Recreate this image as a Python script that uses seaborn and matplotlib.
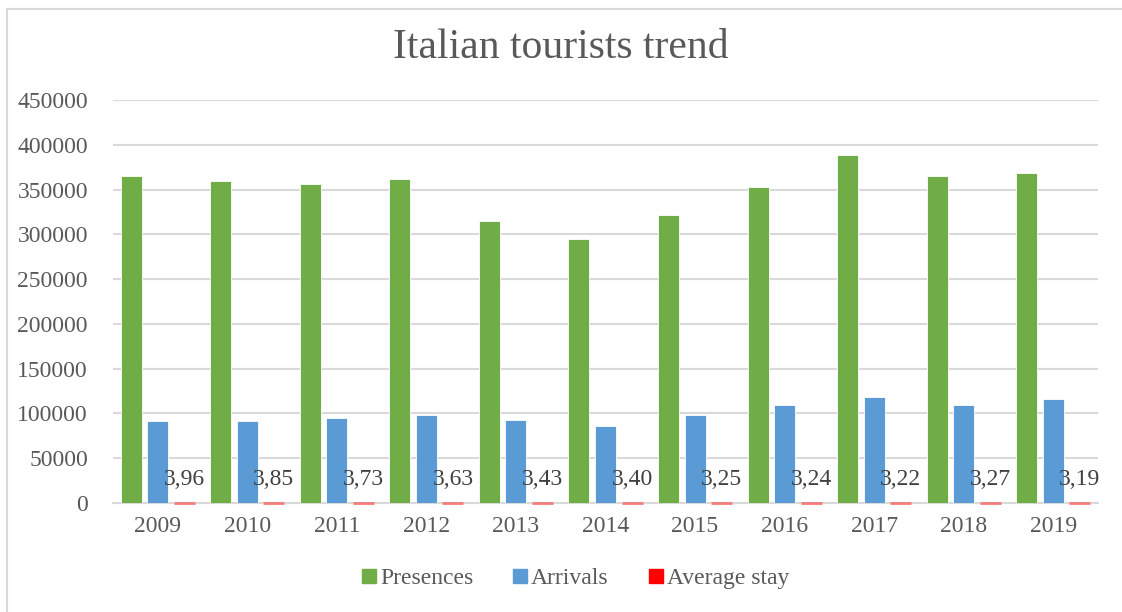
import matplotlib
matplotlib.use("Agg")
import matplotlib.pyplot as plt
import seaborn as sns
import pandas as pd
from matplotlib.lines import Line2D

years = ["2009", "2010", "2011", "2012", "2013", "2014", "2015", "2016", "2017", "2018", "2019"]
presences = [365000, 359500, 356500, 362000, 315300, 294800, 321300, 353300, 388600, 365000, 368000]
arrivals = [91900, 91900, 94900, 98300, 92300, 86300, 97900, 109400, 118400, 109400, 115800]
average_stay = [3.96, 3.85, 3.73, 3.63, 3.43, 3.40, 3.25, 3.24, 3.22, 3.27, 3.19]
series_names = ["Presences", "Arrivals", "Average stay"]
colors = ["#70AD47", "#5B9BD5", "#FF0000"]

df = pd.DataFrame({
    "Year": years * 3,
    "Value": presences + arrivals + average_stay,
    "Series": [series_names[0]] * 11 + [series_names[1]] * 11 + [series_names[2]] * 11,
})

sns.set_theme(style="white")
plt.rcParams["font.family"] = ["Liberation Serif", "DejaVu Serif"]

fig = plt.figure(figsize=(11.22, 6.12), dpi=100)
ax = fig.add_axes([113 / 1122, 1 - 503 / 612, (1098 - 113) / 1122, (503 - 100) / 612])

sns.barplot(data=df, x="Year", y="Value", hue="Series", palette=colors,
            width=0.89, gap=0.21, ax=ax, legend=False, saturation=1)

red_container = ax.containers[2]
for p in red_container.patches:
    p.set_edgecolor("#F47C7C")
    p.set_linewidth(2.0)
    p.set_zorder(6)
    p.set_clip_on(False)
for c in ax.containers[:2]:
    for p in c.patches:
        p.set_edgecolor("#FFFFFF")
        p.set_linewidth(0.6)
        p.set_zorder(4)

labels = [f"{v:.2f}".replace(".", ",") for v in average_stay]
ax.bar_label(red_container, labels=labels, padding=9, fontsize=17, color="#404040", zorder=7)

ax.set_ylim(0, 450000)
ax.set_xlim(-0.5, 10.5)
ax.set_yticks(range(0, 450001, 50000))
ax.set_yticklabels([str(v) for v in range(0, 450001, 50000)])
ax.yaxis.grid(True, color="#D9D9D9", linewidth=1.5)
ax.set_axisbelow(True)
for s in ["top", "right", "left"]:
    ax.spines[s].set_visible(False)
ax.spines["bottom"].set_color("#D9D9D9")
ax.spines["bottom"].set_linewidth(1.5)
ax.spines["bottom"].set_zorder(1)
ax.tick_params(axis="y", length=0, labelsize=17, labelcolor="#595959", pad=18)
ax.tick_params(axis="x", length=0, labelsize=17, labelcolor="#595959", pad=9)
ax.set_xlabel("")
ax.set_ylabel("")

fig.text(0.5, 1 - 48 / 612, "Italian tourists trend", ha="center", va="center",
         fontsize=30, color="#595959")

handles = [Line2D([0], [0], marker="s", linestyle="", markersize=10,
                  markerfacecolor=c, markeredgecolor=c) for c in colors]
fig.legend(handles, series_names, loc="center", bbox_to_anchor=(0.512, 1 - 578 / 612),
           ncol=3, frameon=False, fontsize=17, labelcolor="#595959",
           handletextpad=0.05, columnspacing=1.6, handlelength=0.8)

fig.add_artist(Line2D([6.5 / 1122, 1.0], [1 - 8.5 / 612, 1 - 8.5 / 612],
                      color="#D9D9D9", linewidth=1.5, transform=fig.transFigure))
fig.add_artist(Line2D([6.5 / 1122, 6.5 / 1122], [0, 1 - 8.5 / 612],
                      color="#D9D9D9", linewidth=1.5, transform=fig.transFigure))

fig.savefig("out.png", dpi=100, facecolor="white")
